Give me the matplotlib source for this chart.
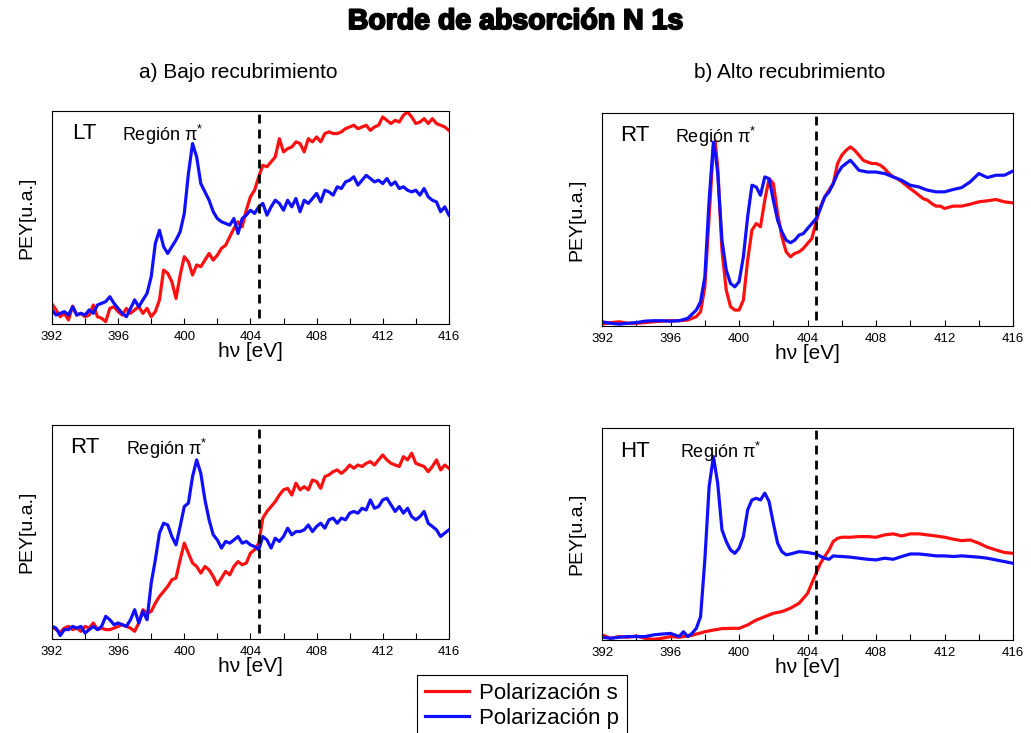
import matplotlib
matplotlib.use("Agg")
import matplotlib.pyplot as plt
import matplotlib.patheffects as pe
from matplotlib.ticker import MultipleLocator, NullLocator
import numpy as np

plt.rcParams['font.family'] = ['Liberation Sans', 'DejaVu Sans']
plt.rcParams['mathtext.fontset'] = 'custom'
plt.rcParams['mathtext.rm'] = 'Liberation Sans'
plt.rcParams['mathtext.it'] = 'Liberation Sans:italic'

# ---------------- data (photon energy in eV, PEY in arbitrary units) ----------------
# a) low coverage, LT
e_low = np.arange(392.0, 416.01, 0.25)
lt_s = [9.4, 6.6, 3.4, 5.0, 1.9, 8.4, 4.2, 5.0, 3.4, 4.2, 8.9, 3.4, 2.7, 1.1, 7.3, 8.1,
        5.8, 4.2, 7.3, 5.0, 6.6, 8.1, 5.0, 7.3, 3.4, 5.8, 11.3, 25.3, 23.8, 19.8, 12.0, 23.0,
        31.6, 29.2, 23.0, 27.7, 26.9, 30.0, 33.1, 30.0, 32.3, 35.5, 37.0, 40.9, 44.8, 48.0, 45.6, 53.4,
        59.7, 62.8, 69.1, 74.5, 73.8, 76.1, 78.4, 87.0, 80.8, 82.3, 83.1, 85.5, 84.7, 80.8, 87.0, 85.5,
        87.8, 85.5, 89.4, 90.2, 89.4, 89.4, 90.2, 91.7, 92.5, 93.3, 91.7, 92.5, 93.3, 90.9, 92.5, 93.3,
        97.2, 95.6, 94.1, 95.6, 94.8, 98.0, 99.5, 97.2, 94.1, 94.8, 96.4, 94.1, 96.4, 94.1, 93.3, 92.5,
        90.9]
lt_p = [6.6, 4.2, 5.0, 5.8, 4.2, 8.1, 4.2, 5.0, 4.2, 6.6, 5.0, 8.9, 9.7, 10.5, 12.8, 9.7,
        7.3, 5.0, 3.4, 7.3, 11.3, 8.1, 11.3, 14.4, 22.2, 37.8, 44.0, 36.3, 33.1, 36.3, 39.4, 43.3,
        51.9, 70.6, 84.7, 78.4, 65.9, 62.0, 58.1, 52.7, 49.5, 48.0, 47.2, 46.4, 49.5, 42.5, 49.5, 51.1,
        53.4, 51.9, 55.0, 56.6, 51.1, 55.0, 58.1, 56.6, 53.4, 58.1, 55.0, 58.9, 52.7, 58.1, 56.6, 58.9,
        61.3, 57.3, 62.8, 62.0, 60.5, 64.4, 63.6, 66.7, 67.5, 69.1, 65.2, 67.5, 69.8, 68.3, 66.7, 67.5,
        65.9, 68.3, 65.2, 66.7, 63.6, 64.4, 62.8, 62.0, 62.8, 60.5, 63.6, 59.7, 58.1, 57.3, 52.7, 55.0,
        51.1]

# a) low coverage, RT
rt_low_s = [5.9, 4.4, 3.1, 5.1, 5.9, 4.4, 5.1, 3.6, 5.9, 5.1, 7.5, 4.4, 5.1, 4.4, 4.4, 5.1,
            5.9, 6.7, 5.9, 5.1, 3.6, 7.5, 13.7, 12.1, 12.9, 16.8, 19.9, 22.2, 24.6, 27.7, 28.5, 37.0,
            44.8, 40.1, 35.5, 33.9, 30.8, 33.9, 32.3, 29.2, 25.3, 28.5, 31.6, 30.0, 33.9, 36.2, 34.7, 35.5,
            40.1, 41.7, 44.8, 56.5, 59.6, 61.9, 64.2, 67.3, 69.7, 70.4, 67.3, 72.8, 69.7, 71.2, 69.7, 74.3,
            73.6, 70.4, 75.9, 76.7, 78.2, 79.0, 77.4, 79.0, 81.3, 79.8, 81.3, 80.6, 82.1, 82.9, 81.3, 83.7,
            86.0, 83.7, 82.1, 81.3, 80.6, 85.2, 83.7, 86.8, 82.1, 81.3, 80.6, 78.2, 80.6, 83.7, 79.0, 81.3,
            79.8]
rt_low_p = [5.9, 5.1, 1.6, 4.4, 4.4, 5.9, 5.1, 5.9, 2.8, 4.4, 5.9, 4.4, 5.9, 10.6, 9.0, 6.7,
            7.5, 6.7, 5.9, 9.0, 13.7, 7.5, 12.9, 9.0, 26.1, 37.0, 49.5, 54.1, 53.3, 47.9, 44.0, 52.6,
            61.9, 63.5, 75.9, 83.7, 77.4, 65.0, 55.7, 48.7, 46.3, 42.5, 45.6, 44.8, 46.3, 47.9, 44.8, 45.6,
            44.0, 43.2, 41.7, 47.9, 46.3, 42.5, 47.1, 45.6, 47.9, 51.8, 48.7, 50.2, 50.2, 51.0, 53.3, 50.2,
            52.6, 54.1, 51.8, 55.7, 56.5, 54.1, 56.5, 55.7, 58.8, 59.6, 58.8, 61.1, 60.3, 65.0, 61.1, 61.9,
            65.0, 65.8, 62.7, 59.6, 61.9, 58.8, 61.1, 57.2, 55.7, 57.2, 59.6, 54.1, 52.6, 51.0, 47.9, 49.5,
            51.0]

# b) high coverage, RT
e_rt_high = [392.0, 392.5, 393.0, 393.5, 394.0, 394.5, 395.0, 395.5, 396.0, 396.5, 397.0, 397.5,
             397.75, 398.0, 398.25, 398.5, 398.6, 398.75, 399.0, 399.25, 399.5, 399.75, 400.0, 400.25,
             400.5, 400.75, 401.0, 401.25, 401.5, 401.75, 402.0, 402.25, 402.5, 402.75, 403.0, 403.25,
             403.5, 403.75, 404.0, 404.25, 404.5, 404.75, 405.0, 405.25, 405.5, 405.75, 406.0, 406.25,
             406.5, 406.75, 407.0, 407.25, 407.5, 407.75, 408.0, 408.25, 408.5, 408.75, 409.0, 409.25,
             409.5, 409.75, 410.0, 410.25, 410.5, 410.75, 411.0, 411.25, 411.5, 411.75, 412.0, 412.5,
             413.0, 413.5, 414.0, 414.5, 415.0, 415.5, 416.0]
rt_high_s = [0.9, 1.6, 2.0, 1.3, 1.3, 1.6, 2.0, 2.3, 2.5, 2.5, 2.8, 4.4,
             6.7, 18.4, 51.3, 84.1, 86.4, 74.7, 35.6, 16.9, 9.1, 7.5, 7.5, 12.2,
             30.9, 45.0, 48.1, 46.6, 59.1, 69.2, 66.9, 52.8, 41.9, 34.8, 32.5, 34.1,
             34.8, 36.4, 38.8, 41.1, 48.9, 55.9, 60.6, 63.8, 66.9, 76.3, 80.2, 82.5,
             84.1, 82.5, 80.2, 77.8, 77.0, 76.3, 76.3, 75.5, 73.9, 71.6, 70.0, 69.2,
             67.7, 66.1, 64.5, 63.0, 61.4, 59.8, 59.1, 57.5, 56.3, 56.3, 55.2, 56.3,
             56.3, 57.2, 58.3, 58.8, 59.4, 58.3, 57.8]
rt_high_p = [2.0, 1.3, 0.9, 1.3, 1.6, 2.3, 2.5, 2.5, 2.3, 2.5, 3.6, 7.5,
             11.4, 23.1, 59.1, 86.4, 82.0, 71.9, 40.3, 26.3, 20.0, 18.4, 20.8, 32.5,
             51.3, 66.1, 65.3, 61.4, 70.0, 69.2, 59.1, 49.7, 44.2, 40.3, 39.1, 40.3,
             42.7, 43.4, 45.8, 48.1, 50.5, 55.2, 60.6, 62.9, 66.9, 71.6, 74.7, 76.3,
             77.8, 75.5, 73.1, 72.7, 72.3, 72.3, 72.3, 71.9, 71.6, 70.8, 70.0, 69.2,
             68.4, 67.2, 66.1, 65.7, 65.3, 64.5, 63.8, 63.4, 63.0, 63.0, 63.0, 64.1,
             65.0, 67.7, 71.6, 69.7, 70.8, 70.8, 72.8]

# b) high coverage, HT
e_ht = [392.0, 392.5, 393.0, 393.5, 394.0, 394.5, 395.0, 395.5, 396.0, 396.5, 396.75, 397.0,
        397.25, 397.5, 397.75, 398.0, 398.25, 398.5, 398.75, 399.0, 399.25, 399.5, 399.75, 400.0,
        400.25, 400.5, 400.75, 401.0, 401.25, 401.5, 401.75, 402.0, 402.25, 402.5, 402.75, 403.0,
        403.5, 404.0, 404.25, 404.5, 404.75, 405.0, 405.25, 405.5, 405.75, 406.0, 406.5, 407.0,
        407.5, 408.0, 408.5, 409.0, 409.5, 410.0, 410.5, 411.0, 411.5, 412.0, 412.5, 413.0,
        413.5, 414.0, 414.5, 415.0, 415.5, 416.0]
ht_s = [2.4, 0.8, 1.6, 1.3, 1.9, 0.8, 0.3, 0.8, 1.6, 1.3, 1.6, 1.9,
        2.2, 2.8, 3.3, 3.9, 4.3, 4.7, 5.0, 5.4, 5.4, 5.5, 5.5, 5.5,
        6.3, 7.1, 8.3, 9.4, 10.2, 11.0, 11.8, 12.6, 13.0, 13.4, 14.2, 15.0,
        17.3, 22.0, 26.8, 31.5, 36.2, 39.4, 42.5, 46.5, 48.0, 48.5, 48.5, 48.8,
        48.8, 48.5, 49.6, 50.1, 49.1, 50.1, 50.1, 49.6, 49.1, 48.5, 47.6, 46.9,
        47.2, 45.7, 43.8, 42.5, 41.3, 40.9]
ht_p = [1.3, 0.8, 1.3, 1.6, 1.6, 1.6, 2.4, 2.8, 3.1, 1.6, 3.9, 1.6,
        3.1, 5.5, 11.0, 37.8, 72.4, 86.6, 74.0, 52.0, 46.5, 42.5, 40.9, 43.3,
        48.8, 61.4, 66.1, 66.9, 66.1, 69.3, 65.4, 55.1, 45.7, 41.7, 40.2, 40.6,
        41.7, 41.3, 40.9, 40.6, 39.5, 38.6, 38.1, 39.7, 39.5, 39.4, 39.1, 38.6,
        38.1, 37.8, 38.6, 38.1, 39.4, 40.6, 40.6, 40.2, 39.7, 39.7, 39.4, 39.7,
        39.4, 39.1, 38.6, 37.8, 37.0, 36.2]

edge_energy = 404.5
xticks_major = 4
xticks_minor = 2

RED = "#ff1010"
BLUE = "#1010ff"

fig = plt.figure(figsize=(10.31, 7.33), dpi=100)

panels = [
    # (rect, energies_s, s, energies_p, p, label, label_pos, region_pos)
    ([0.0504, 0.558, 0.385, 0.2906], e_low, lt_s, e_low, lt_p, "LT", (0.05, 0.895), (0.176, 0.86)),
    ([0.584, 0.5552, 0.3986, 0.2906], e_rt_high, rt_high_s, e_rt_high, rt_high_p, "RT", (0.045, 0.895), (0.178, 0.86)),
    ([0.0504, 0.1282, 0.385, 0.292], e_low, rt_low_s, e_low, rt_low_p, "RT", (0.045, 0.895), (0.186, 0.86)),
    ([0.584, 0.1269, 0.3986, 0.289], e_ht, ht_s, e_ht, ht_p, "HT", (0.045, 0.89), (0.19, 0.86)),
]

handles = None
for rect, es, ys, ep, yp, lab, lpos, rpos in panels:
    ax = fig.add_axes(rect)
    ls, = ax.plot(es, ys, color=RED, lw=2.3, label="Polarización s")
    lp, = ax.plot(ep, yp, color=BLUE, lw=2.3, label="Polarización p")
    handles = [ls, lp]
    ax.axvline(edge_energy, ymin=0.03, ymax=1.0, color="black", lw=2.0, ls=(0, (3.2, 2.2)))
    ax.set_xlim(392, 416)
    ax.set_ylim(0, 100)
    ax.xaxis.set_major_locator(MultipleLocator(xticks_major))
    ax.xaxis.set_minor_locator(MultipleLocator(xticks_minor))
    ax.yaxis.set_major_locator(NullLocator())
    ax.tick_params(axis="x", which="both", direction="in", length=4, width=0.8,
                   labelsize=9.5, pad=5)
    for sp in ax.spines.values():
        sp.set_linewidth(0.8)
    ax.set_xlabel("hν [eV]", fontsize=15, labelpad=-1)
    ax.set_ylabel("PEY[u.a.]", fontsize=14, labelpad=12)
    ax.text(lpos[0], lpos[1], lab, transform=ax.transAxes, fontsize=16, va="center", ha="left")
    ax.text(rpos[0], rpos[1], "Región π$^{*}$", transform=ax.transAxes, fontsize=13,
            va="baseline", ha="left")

fig.text(0.5, 1 - 22 / 733, "Borde de absorción N 1s", ha="center", va="center",
         fontsize=20.5, fontweight="bold",
         path_effects=[pe.withStroke(linewidth=1.4, foreground="black")])
fig.text(238 / 1031, 1 - 73 / 733, "a) Bajo recubrimiento", ha="center", va="center", fontsize=15)
fig.text(790 / 1031, 1 - 73 / 733, "b) Alto recubrimiento", ha="center", va="center", fontsize=15)

leg = fig.legend(handles, [h.get_label() for h in handles], loc="upper left",
                 bbox_to_anchor=(417 / 1031, 1 - 675 / 733), fontsize=16, frameon=True,
                 fancybox=False, edgecolor="black", framealpha=1, borderpad=0.35,
                 handlelength=2.0, handletextpad=0.45, labelspacing=0.2, borderaxespad=0)
leg.get_frame().set_linewidth(0.8)

fig.savefig("out.png", dpi=100)
